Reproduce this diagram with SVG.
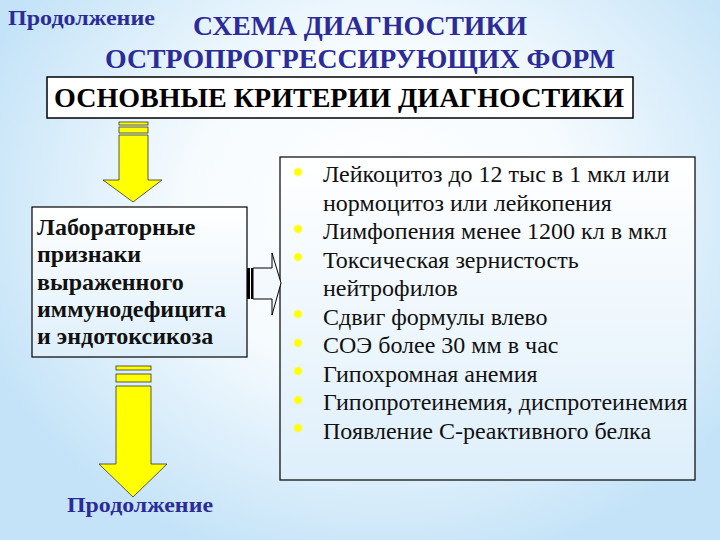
<svg xmlns="http://www.w3.org/2000/svg" width="720" height="540" viewBox="0 0 720 540">
<defs>
<radialGradient id="bg" cx="380" cy="210" r="430" gradientUnits="userSpaceOnUse" gradientTransform="translate(380 210) scale(1 0.85) translate(-380 -210)">
<stop offset="0" stop-color="#ffffff"/>
<stop offset="0.45" stop-color="#f6fbfe"/>
<stop offset="1" stop-color="#c4e3f8"/>
</radialGradient>
<linearGradient id="boxfill" x1="0" y1="0" x2="0" y2="1">
<stop offset="0" stop-color="#ffffff"/>
<stop offset="1" stop-color="#deeffb"/>
</linearGradient>
<radialGradient id="dot">
<stop offset="0" stop-color="#ffff00"/>
<stop offset="0.6" stop-color="#ffff00"/>
<stop offset="1" stop-color="#ffff00" stop-opacity="0"/>
</radialGradient>
<style>
text{font-family:"Liberation Serif","Times New Roman",serif}
.blue{font-weight:bold;fill:#2b2b99}
.crit{font-weight:bold;fill:#000;font-size:28px}
.lab{font-weight:bold;fill:#111;font-size:24px}
.item{fill:#111;font-size:24px}
.box{fill:url(#boxfill);stroke:#000;stroke-width:1.2}
.yarrow{fill:#ffff00;stroke:#333;stroke-width:0.8}
.warrow{fill:#f4f9fd;stroke:#000;stroke-width:1}
</style>
</defs>
<rect width="720" height="540" fill="url(#bg)"/>

<g id="title">
<text class="blue" x="8" y="25" font-size="20" textLength="147" lengthAdjust="spacingAndGlyphs">Продолжение</text>
<text class="blue" x="193" y="35" font-size="28" textLength="334" lengthAdjust="spacingAndGlyphs">СХЕМА ДИАГНОСТИКИ</text>
<text class="blue" x="105" y="68" font-size="28" textLength="510" lengthAdjust="spacingAndGlyphs">ОСТРОПРОГРЕССИРУЮЩИХ ФОРМ</text>
</g>

<g id="criteria">
<rect x="47" y="77" width="586" height="41" fill="#ffffff" stroke="#000" stroke-width="1.5"/>
<text class="crit" x="54" y="107" textLength="570" lengthAdjust="spacingAndGlyphs">ОСНОВНЫЕ КРИТЕРИИ ДИАГНОСТИКИ</text>
</g>

<g id="lab">
<rect class="box" x="32" y="207" width="215" height="150"/>
<text class="lab" x="37" y="235">Лабораторные</text>
<text class="lab" x="37" y="262">признаки</text>
<text class="lab" x="37" y="290">выраженного</text>
<text class="lab" x="37" y="317">иммунодефицита</text>
<text class="lab" x="37" y="344">и эндотоксикоза</text>
</g>

<g id="list">
<rect class="box" x="280" y="157" width="415" height="323"/>
<g fill="url(#dot)">
<circle cx="298" cy="172" r="5"/>
<circle cx="298" cy="229" r="5"/>
<circle cx="298" cy="257" r="5"/>
<circle cx="298" cy="314" r="5"/>
<circle cx="298" cy="343" r="5"/>
<circle cx="298" cy="371" r="5"/>
<circle cx="298" cy="400" r="5"/>
<circle cx="298" cy="428" r="5"/>
</g>
<text class="item" x="323" y="182">Лейкоцитоз до 12 тыс в 1 мкл или</text>
<text class="item" x="323" y="210.5">нормоцитоз или лейкопения</text>
<text class="item" x="323" y="239">Лимфопения менее 1200 кл в мкл</text>
<text class="item" x="323" y="267.5">Токсическая зернистость</text>
<text class="item" x="323" y="296">нейтрофилов</text>
<text class="item" x="323" y="324.5">Сдвиг формулы влево</text>
<text class="item" x="323" y="353">СОЭ более 30 мм в час</text>
<text class="item" x="323" y="381.5">Гипохромная анемия</text>
<text class="item" x="323" y="410">Гипопротеинемия, диспротеинемия</text>
<text class="item" x="323" y="438.5">Появление С-реактивного белка</text>
</g>

<g id="next">
<text class="blue" x="67" y="512" font-size="20" textLength="146" lengthAdjust="spacingAndGlyphs">Продолжение</text>
</g>

<g id="connectors">
<g>
<rect class="yarrow" x="119" y="122" width="29" height="3"/>
<rect class="yarrow" x="119" y="127" width="29" height="6"/>
<polygon class="yarrow" points="119,135 148,135 148,180 162,180 133,202 103,180 119,180"/>
</g>
<g>
<rect class="yarrow" x="116" y="366" width="35" height="4"/>
<rect class="yarrow" x="116" y="374" width="35" height="8"/>
<polygon class="yarrow" points="116,386 151,386 151,464 167,464 133,497 99,464 116,464"/>
</g>
<g>
<rect x="247" y="268" width="3" height="31" fill="#000"/>
<rect x="251" y="268" width="2" height="31" fill="#000"/>
<polygon class="warrow" points="253,268 272,268 272,253 281,283 272,315 272,299 253,299"/>
</g>
</g>
</svg>
